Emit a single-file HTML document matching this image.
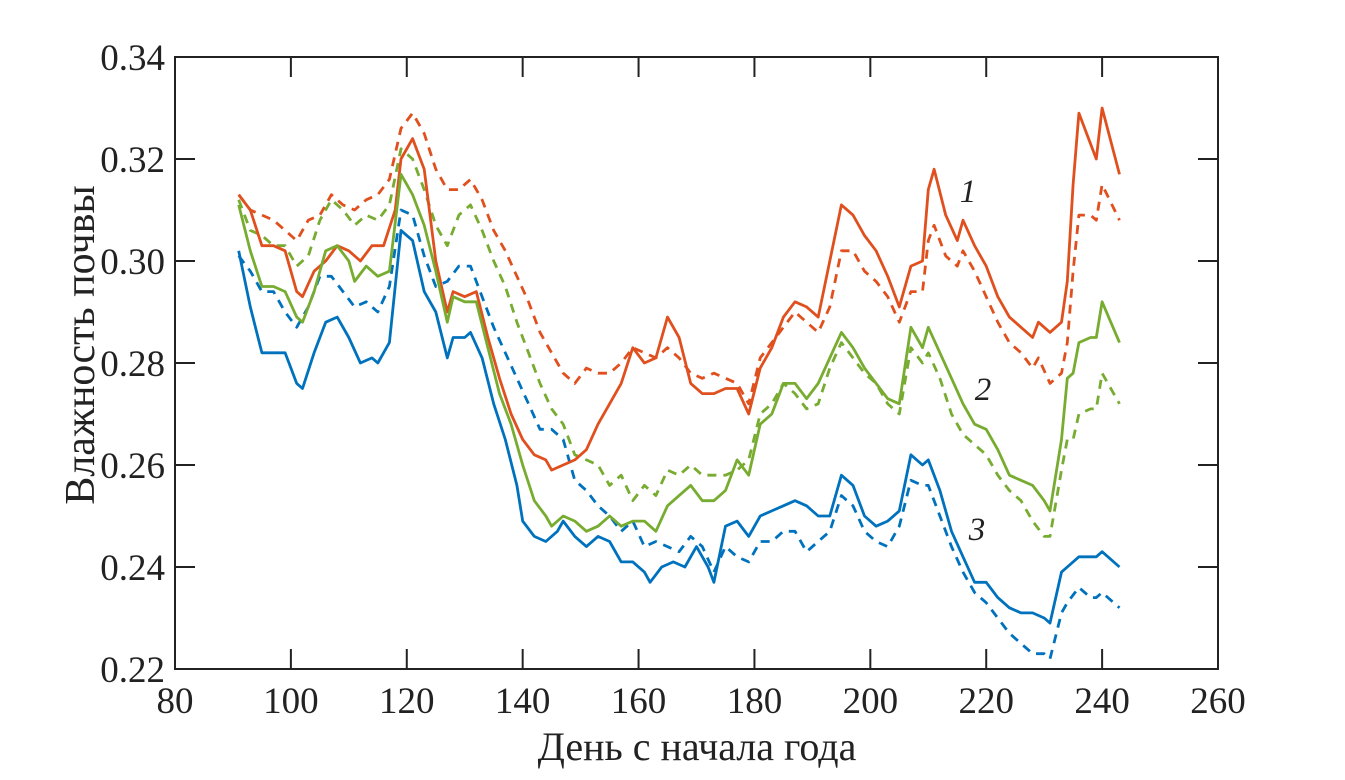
<!DOCTYPE html>
<html><head><meta charset="utf-8"><style>
html,body{margin:0;padding:0;background:#fff;width:1345px;height:780px;overflow:hidden}
svg text{font-family:"Liberation Serif",serif;fill:#222}
</style></head><body>
<svg id="chart" width="1345" height="780" viewBox="0 0 1345 780">
<g id="plot"></g>
</svg>
<script>
const xTicks=[80,100,120,140,160,180,200,220,240,260];
const yTicks=[0.22,0.24,0.26,0.28,0.30,0.32,0.34];
const yTickLabels=["0.22","0.24","0.26","0.28","0.30","0.32","0.34"];
const redSolid=[[91,.313],[93,.310],[95,.303],[97,.303],[99,.302],[101,.294],[102,.293],[104,.298],[106,.300],[108,.303],[110,.302],[112,.300],[114,.303],[116,.303],[118,.310],[119,.320],[121,.324],[123,.318],[125,.300],[127,.290],[128,.294],[130,.293],[132,.294],[134,.285],[136,.277],[138,.270],[140,.265],[142,.262],[144,.261],[145,.259],[147,.260],[149,.261],[151,.263],[153,.268],[155,.272],[157,.276],[159,.283],[161,.280],[163,.281],[165,.289],[167,.285],[169,.276],[171,.274],[173,.274],[175,.275],[177,.275],[179,.270],[181,.279],[183,.283],[185,.289],[187,.292],[189,.291],[191,.289],[193,.300],[195,.311],[197,.309],[199,.305],[201,.302],[203,.297],[205,.291],[207,.299],[209,.300],[210,.314],[211,.318],[213,.309],[215,.304],[216,.308],[218,.303],[220,.299],[222,.293],[224,.289],[226,.287],[228,.285],[229,.288],[231,.286],[233,.288],[234,.296],[235,.315],[236,.329],[238,.323],[239,.320],[240,.330],[243,.317]];
const redDashed=[[91,.313],[93,.310],[95,.309],[97,.308],[99,.306],[101,.304],[103,.308],[105,.309],[107,.313],[109,.311],[111,.310],[113,.312],[115,.313],[117,.316],[119,.326],[121,.329],[123,.325],[125,.318],[127,.314],[129,.314],[131,.316],[133,.312],[135,.306],[137,.302],[139,.297],[141,.292],[143,.286],[145,.282],[147,.278],[149,.276],[151,.279],[153,.278],[155,.278],[157,.280],[159,.283],[161,.282],[163,.281],[165,.283],[167,.281],[169,.278],[171,.277],[173,.278],[175,.277],[177,.276],[179,.272],[181,.281],[183,.284],[185,.287],[187,.290],[189,.288],[191,.286],[193,.291],[195,.302],[197,.302],[199,.298],[201,.296],[203,.293],[205,.288],[207,.294],[209,.294],[210,.304],[211,.307],[213,.301],[215,.299],[216,.302],[218,.298],[220,.293],[222,.288],[224,.284],[226,.282],[228,.279],[229,.281],[231,.276],[233,.278],[234,.284],[235,.298],[236,.309],[238,.309],[239,.308],[240,.315],[243,.308]];
const greenSolid=[[91,.311],[93,.302],[95,.295],[97,.295],[99,.294],[101,.289],[102,.288],[104,.294],[106,.302],[108,.303],[110,.300],[111,.296],[113,.299],[115,.297],[117,.298],[119,.317],[121,.313],[123,.307],[125,.298],[127,.288],[128,.293],[130,.292],[132,.292],[134,.283],[136,.274],[138,.268],[140,.260],[142,.253],[144,.250],[145,.248],[147,.250],[149,.249],[151,.247],[153,.248],[155,.250],[157,.248],[159,.249],[161,.249],[163,.247],[165,.252],[167,.254],[169,.256],[171,.253],[173,.253],[175,.255],[177,.261],[179,.258],[181,.268],[183,.270],[185,.276],[187,.276],[189,.273],[191,.276],[193,.281],[195,.286],[197,.283],[199,.279],[201,.276],[203,.273],[205,.272],[207,.287],[209,.283],[210,.287],[212,.282],[214,.277],[216,.272],[218,.268],[220,.267],[222,.263],[224,.258],[226,.257],[228,.256],[230,.253],[231,.251],[233,.265],[234,.277],[235,.278],[236,.284],[238,.285],[239,.285],[240,.292],[243,.284]];
const greenDashed=[[91,.312],[93,.306],[95,.305],[97,.303],[99,.303],[101,.299],[103,.301],[105,.308],[107,.312],[109,.310],[111,.307],[113,.309],[115,.308],[117,.311],[119,.322],[121,.320],[123,.314],[125,.307],[127,.303],[129,.309],[131,.311],[133,.306],[135,.300],[137,.295],[139,.288],[141,.282],[143,.276],[145,.271],[147,.268],[149,.262],[151,.261],[153,.260],[155,.256],[157,.258],[159,.253],[161,.256],[163,.254],[165,.259],[167,.258],[169,.260],[171,.258],[173,.258],[175,.258],[177,.259],[179,.261],[181,.270],[183,.272],[185,.276],[187,.274],[189,.271],[191,.272],[193,.279],[195,.284],[197,.281],[199,.278],[201,.276],[203,.272],[205,.270],[207,.283],[209,.280],[210,.282],[212,.277],[214,.270],[216,.266],[218,.264],[220,.262],[222,.258],[224,.255],[226,.253],[228,.249],[230,.246],[231,.246],[233,.259],[234,.265],[235,.265],[236,.270],[238,.271],[239,.271],[240,.278],[243,.272]];
const blueSolid=[[91,.302],[93,.291],[95,.282],[97,.282],[99,.282],[101,.276],[102,.275],[104,.282],[106,.288],[108,.289],[110,.285],[112,.280],[114,.281],[115,.280],[117,.284],[119,.306],[121,.304],[123,.294],[125,.290],[127,.281],[128,.285],[130,.285],[131,.286],[133,.281],[135,.272],[137,.265],[139,.256],[140,.249],[142,.246],[144,.245],[146,.247],[147,.249],[149,.246],[151,.244],[153,.246],[155,.245],[157,.241],[159,.241],[161,.239],[162,.237],[164,.240],[166,.241],[168,.240],[170,.244],[172,.240],[173,.237],[175,.248],[177,.249],[179,.246],[181,.250],[183,.251],[185,.252],[187,.253],[189,.252],[191,.250],[193,.250],[195,.258],[197,.256],[199,.250],[201,.248],[203,.249],[205,.251],[207,.262],[209,.260],[210,.261],[212,.255],[214,.247],[216,.242],[218,.237],[220,.237],[222,.234],[224,.232],[226,.231],[228,.231],[230,.230],[231,.229],[233,.239],[234,.240],[236,.242],[238,.242],[239,.242],[240,.243],[243,.240]];
const blueDashed=[[91,.301],[93,.298],[95,.294],[97,.294],[99,.290],[101,.287],[103,.291],[105,.297],[107,.297],[109,.294],[111,.291],[113,.292],[115,.290],[117,.295],[119,.310],[121,.309],[123,.301],[125,.295],[127,.296],[129,.299],[131,.299],[133,.293],[135,.287],[137,.282],[139,.277],[141,.272],[143,.267],[145,.267],[147,.265],[149,.257],[151,.255],[153,.252],[155,.250],[157,.247],[159,.249],[161,.244],[163,.245],[165,.244],[167,.243],[169,.246],[171,.244],[173,.239],[175,.244],[177,.242],[179,.241],[181,.245],[183,.245],[185,.247],[187,.247],[189,.243],[191,.245],[193,.247],[195,.254],[197,.252],[199,.247],[201,.245],[203,.244],[205,.248],[207,.257],[209,.256],[210,.256],[212,.250],[214,.244],[216,.239],[218,.235],[220,.233],[222,.230],[224,.227],[226,.225],[228,.223],[230,.223],[231,.222],[233,.231],[234,.233],[236,.236],[238,.234],[239,.234],[240,.235],[243,.232]];

const X0=175,X1=1218,Y0=669,Y1=57;
const sx=d=>X0+(d-80)/(260-80)*(X1-X0);
const sy=v=>Y0-(v-0.22)/(0.34-0.22)*(Y0-Y1);
const NS="http://www.w3.org/2000/svg";
const g=document.getElementById('plot');
function mk(t,a,p){const e=document.createElementNS(NS,t);for(const k in a)e.setAttribute(k,a[k]);(p||g).appendChild(e);return e;}

const series=[
 {d:redDashed,c:"#e0501e",dash:true,n:"series-1-dashed"},
 {d:greenDashed,c:"#77ac30",dash:true,n:"series-2-dashed"},
 {d:blueDashed,c:"#0072bd",dash:true,n:"series-3-dashed"},
 {d:redSolid,c:"#e0501e",dash:false,n:"series-1-solid"},
 {d:greenSolid,c:"#77ac30",dash:false,n:"series-2-solid"},
 {d:blueSolid,c:"#0072bd",dash:false,n:"series-3-solid"}];
series.forEach(s=>{
 const p=mk('polyline',{points:s.d.map(q=>sx(q[0]).toFixed(1)+","+sy(q[1]).toFixed(1)).join(" "),fill:"none",stroke:s.c,"stroke-width":2.8,"stroke-linejoin":"round","stroke-dasharray":s.dash?"9,7":"none"});
 
 
});

const box=mk('rect',{x:X0,y:Y1,width:X1-X0,height:Y0-Y1,fill:"none",stroke:"#222","stroke-width":2});



xTicks.forEach(t=>{
 const x=sx(t);
 if(t>80&&t<260){mk('line',{x1:x,y1:Y0,x2:x,y2:Y0-20,stroke:"#222","stroke-width":2});mk('line',{x1:x,y1:Y1,x2:x,y2:Y1+20,stroke:"#222","stroke-width":2});}
 const tx=mk('text',{x:x,y:Y0+44,"text-anchor":"middle","font-size":37});
 tx.textContent=t;
 
 
});
yTicks.forEach((t,i)=>{
 const y=sy(t);
 if(i>0&&i<yTicks.length-1){mk('line',{x1:X0,y1:y,x2:X0+20,y2:y,stroke:"#222","stroke-width":2});mk('line',{x1:X1,y1:y,x2:X1-20,y2:y,stroke:"#222","stroke-width":2});}
 const tx=mk('text',{x:X0-10,y:y+13,"text-anchor":"end","font-size":37});
 tx.textContent=yTickLabels[i];
 
 
});
const xl=mk('text',{x:697,y:760,"text-anchor":"middle","font-size":40});
xl.textContent="День с начала года";


const yl=mk('text',{x:0,y:0,"text-anchor":"middle","font-size":42,transform:"translate(94,345) rotate(-90)"});
yl.textContent="Влажность почвы";


[["1",968,202],["2",983,400],["3",977,540]].forEach(l=>{
 const t=mk('text',{x:l[1],y:l[2],"text-anchor":"middle","font-size":33,"font-style":"italic"});
 t.textContent=l[0];
 
 
});
</script>
</body></html>
